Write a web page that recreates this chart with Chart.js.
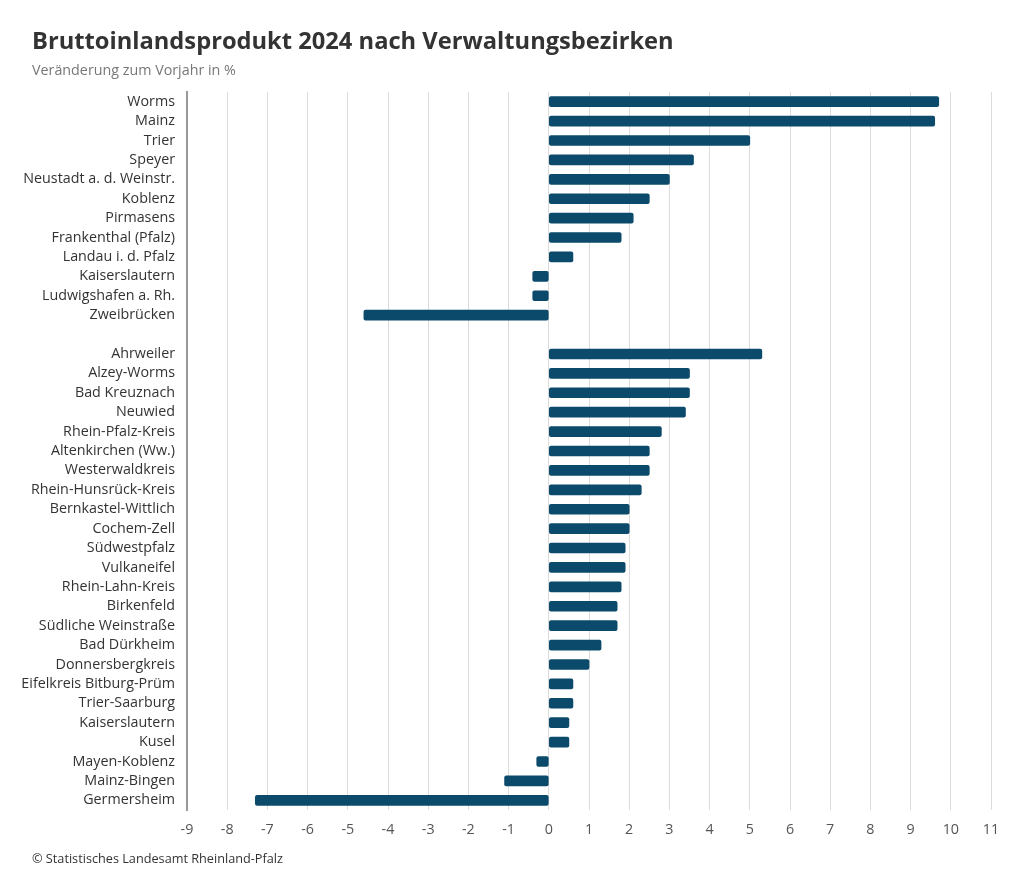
<!DOCTYPE html>
<html lang="de">
<head>
<meta charset="utf-8">
<title>Bruttoinlandsprodukt 2024 nach Verwaltungsbezirken</title>
<script src="https://cdn.jsdelivr.net/npm/chart.js@4"></script>
<style>
  html, body { margin: 0; padding: 0; background: #fff; }
  body { width: 1024px; height: 873px; position: relative; overflow: hidden; font-family: "Open Sans", sans-serif; }
  #wrap { position: absolute; left: 0; top: 0; width: 1024px; height: 873px; }
  .txt { position: absolute; left: 32px; white-space: nowrap; line-height: 1; }
  #title { top: 29px; font-size: 23.7px; font-weight: bold; color: #333; }
  #subtitle { top: 63px; font-size: 14.3px; color: #777; }
  #source { top: 852px; font-size: 12.7px; color: #333; }
</style>
</head>
<body>
<div id="wrap"><canvas id="bipChart"></canvas></div>
<div class="txt" id="title">Bruttoinlandsprodukt 2024 nach Verwaltungsbezirken</div>
<div class="txt" id="subtitle">Veränderung zum Vorjahr in %</div>
<div class="txt" id="source">© Statistisches Landesamt Rheinland-Pfalz</div>
<script>
// kreisfreie Städte
const staedte = ['Worms', 'Mainz', 'Trier', 'Speyer', 'Neustadt a. d. Weinstr.', 'Koblenz',
  'Pirmasens', 'Frankenthal (Pfalz)', 'Landau i. d. Pfalz', 'Kaiserslautern',
  'Ludwigshafen a. Rh.', 'Zweibrücken'];
const staedteWerte = [9.7, 9.6, 5.0, 3.6, 3.0, 2.5, 2.1, 1.8, 0.6, -0.4, -0.4, -4.6];

// Landkreise
const kreise = ['Ahrweiler', 'Alzey-Worms', 'Bad Kreuznach', 'Neuwied', 'Rhein-Pfalz-Kreis',
  'Altenkirchen (Ww.)', 'Westerwaldkreis', 'Rhein-Hunsrück-Kreis', 'Bernkastel-Wittlich',
  'Cochem-Zell', 'Südwestpfalz', 'Vulkaneifel', 'Rhein-Lahn-Kreis', 'Birkenfeld',
  'Südliche Weinstraße', 'Bad Dürkheim', 'Donnersbergkreis', 'Eifelkreis Bitburg-Prüm',
  'Trier-Saarburg', 'Kaiserslautern', 'Kusel', 'Mayen-Koblenz', 'Mainz-Bingen', 'Germersheim'];
const kreiseWerte = [5.3, 3.5, 3.5, 3.4, 2.8, 2.5, 2.5, 2.3, 2.0, 2.0, 1.9, 1.9, 1.8, 1.7,
  1.7, 1.3, 1.0, 0.6, 0.6, 0.5, 0.5, -0.3, -1.1, -7.3];

const xMin = -9;
const xMax = 11;

// leere Zeile zwischen Städten und Kreisen
const labels = staedte.concat([''], kreise);
const werte = staedteWerte.concat([null], kreiseWerte);

const ctx = document.getElementById('bipChart').getContext('2d');
new Chart(ctx, {
  type: 'bar',
  data: {
    labels: labels,
    datasets: [{
      data: werte,
      backgroundColor: '#0b4a6b',
      borderRadius: 2,
      borderSkipped: false,
      barThickness: 10
    }]
  },
  options: {
    indexAxis: 'y',
    responsive: true,
    maintainAspectRatio: false,
    animation: false,
    layout: { padding: { top: 92, right: 33, left: 0, bottom: 0 } },
    plugins: {
      legend: { display: false },
      tooltip: { enabled: false }
    },
    scales: {
      x: {
        min: xMin,
        max: xMax,
        ticks: {
          stepSize: 1,
          color: '#555',
          padding: 11,
          font: { family: 'Open Sans', size: 14.3 }
        },
        grid: { color: '#dcdcdc', lineWidth: 1, drawTicks: false },
        border: { display: false },
        afterFit: scale => { scale.height = 63; }
      },
      y: {
        ticks: {
          autoSkip: false,
          color: '#333',
          padding: 12,
          font: { family: 'Open Sans', size: 14.3 }
        },
        grid: { display: false, drawTicks: false },
        border: { display: true, color: '#999', width: 2 },
        afterFit: scale => { scale.width = 187; }
      }
    }
  }
});
</script>
</body>
</html>
